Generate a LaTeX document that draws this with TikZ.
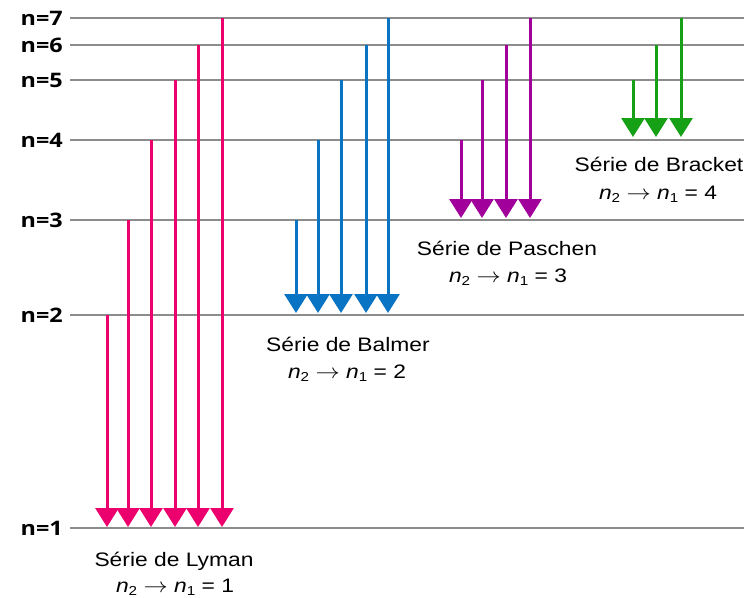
\documentclass[tikz,border=0pt]{standalone}
\usepackage{fontspec}
\usepackage{graphicx}
\setmainfont{Liberation Sans}
\newfontfamily\lvlfont{Open Sans}
\usetikzlibrary{arrows.meta}
\definecolor{lyman}{RGB}{236,0,110}
\definecolor{balmer}{RGB}{10,116,196}
\definecolor{paschen}{RGB}{162,0,155}
\definecolor{bracket}{RGB}{22,160,22}
\definecolor{levgrey}{RGB}{140,140,140}
\newcommand\lvsub[1]{\raisebox{-0.35ex}{\fontsize{13}{13}\selectfont #1}}
\newcommand\stxt[1]{\scalebox{1.17}[1]{\fontsize{19.5}{23}\selectfont #1}}
\newcommand\formula[1]{\stxt{\textit{n}\lvsub{2} $\rightarrow$ \textit{n}\lvsub{1} = #1}}
\tikzset{
  level/.style={draw=levgrey, line width=2pt},
  lvlabel/.style={anchor=base east, inner sep=0pt, font=\lvlfont\bfseries},
  trans/.style={line width=3pt, -{Triangle[width=23pt,length=19pt]}},
  stitle/.style={anchor=base, inner sep=0pt},
}
\begin{document}
\begin{tikzpicture}[x=1pt,y=-1pt]
\useasboundingbox (0,0) rectangle (744,597);
% levels
\foreach \n/\y in {1/528,2/315,3/220,4/140,5/80,6/45,7/18}{
  \coordinate (s\n) at (70,\y);
  \coordinate (e\n) at (744,\y);
  \draw[level] (s\n) -- (e\n);
  \node[lvlabel] (lab\n) at (63,\y+7) {\scalebox{1.17}[1]{\fontsize{20}{23}\selectfont n=\n}};
}
% Lyman
\foreach \x/\y in {107/315,128/220,151/140,175/80,198/45,222/18}{
  \draw[trans, draw=lyman, fill=lyman] (\x,\y) -- (\x,527);
}
% Balmer
\foreach \x/\y in {296/220,318/140,341/80,366/45,388/18}{
  \draw[trans, draw=balmer, fill=balmer] (\x,\y) -- (\x,313);
}
% Paschen
\foreach \x/\y in {461/140,482/80,506/45,530/18}{
  \draw[trans, draw=paschen, fill=paschen] (\x,\y) -- (\x,218);
}
% Bracket
\foreach \x/\y in {633/80,656/45,681/18}{
  \draw[trans, draw=bracket, fill=bracket] (\x,\y) -- (\x,137);
}
% series labels
\node[stitle] (tly) at (174,566) {\stxt{Série de Lyman}};
\node[stitle] (fly) at (175,592) {\formula{1}};
\node[stitle] (tba) at (348,351) {\stxt{Série de Balmer}};
\node[stitle] (fba) at (347,378) {\formula{2}};
\node[stitle] (tpa) at (507,255) {\stxt{Série de Paschen}};
\node[stitle] (fpa) at (508,282) {\formula{3}};
\node[stitle] (tbr) at (659,171) {\stxt{Série de Bracket}};
\node[stitle] (fbr) at (658,199) {\formula{4}};
\end{tikzpicture}
\end{document}
